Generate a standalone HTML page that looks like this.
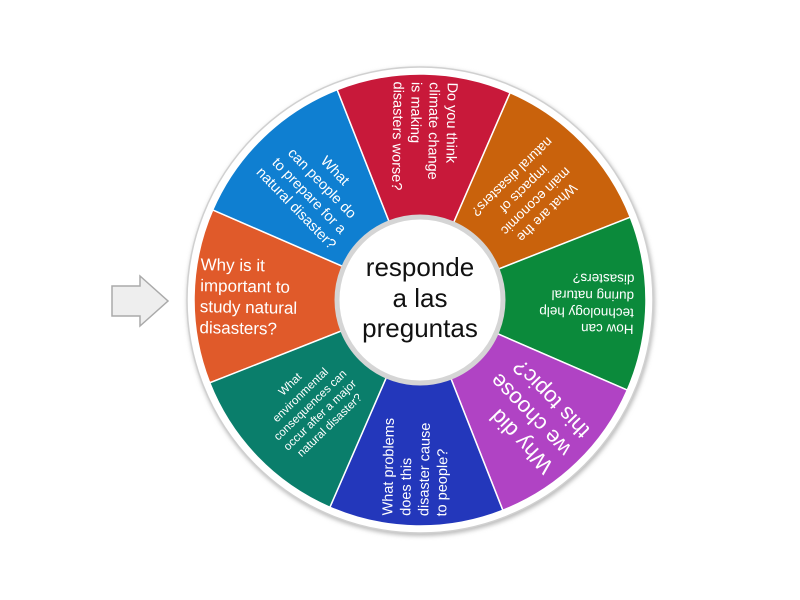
<!DOCTYPE html>
<html><head><style>
body{margin:0;width:800px;height:600px;background:#fff;overflow:hidden;position:relative;font-family:"Liberation Sans",sans-serif}
svg{position:absolute;left:0;top:0}
.c{position:absolute;left:420px;top:300px;width:0;height:0}
.l{position:absolute;left:-220px;top:-60px;width:140px;height:120px;display:flex;align-items:center;color:#fff;line-height:1.24}
.ctr{position:absolute;left:340px;top:252px;width:160px;text-align:center;font-size:26px;line-height:1.18;color:#111}
</style></head><body>
<svg width="800" height="600">
<defs><filter id="s"><feGaussianBlur stdDeviation="2"/></filter></defs>
<circle cx="421" cy="302" r="234" fill="#bbb" filter="url(#s)"/>
<circle cx="420" cy="300" r="233" fill="#fff" stroke="#d0d0d0" stroke-width="1.5"/>
<g id="w"></g>
<circle cx="420" cy="300" r="83" fill="#fff" stroke="#d5d5d5" stroke-width="5"/>
<polygon points="112,286 140,286 140,276 168,301 140,326 140,316 112,316" fill="#eee" stroke="#aaa" stroke-width="1.5"/>
</svg>
<div class="ctr">responde<br>a las<br>preguntas</div>
<script>
var cols=["#e05a2a","#0f7fd1","#c8193a","#c9620c","#0b8a3b","#b043c4","#2337bb","#0a7e6b"];
var g=document.getElementById('w'),R=226,cx=420,cy=300,h='';
for(var i=0;i<8;i++){var a1=(180+45*i-22.5+1)*Math.PI/180,a2=(180+45*i+22.5+1)*Math.PI/180;
h+='<path d="M'+cx+','+cy+' L'+(cx+R*Math.cos(a1))+','+(cy+R*Math.sin(a1))+' A'+R+','+R+' 0 0 1 '+(cx+R*Math.cos(a2))+','+(cy+R*Math.sin(a2))+' Z" fill="'+cols[i]+'" stroke="#fff" stroke-width="1.5"/>';}
g.innerHTML=h;
</script>
<div class="c" style="transform:rotate(1deg)"><div class="l" style="font-size:17px">Why is it<br>important to<br>study natural<br>disasters?</div></div>
<div class="c" style="transform:rotate(46deg)"><div class="l" style="font-size:14.5px;text-align:center;justify-content:center;left:-222px">What<br>can people do<br>to prepare for a<br>natural disaster?</div></div>
<div class="c" style="transform:rotate(91deg)"><div class="l" style="font-size:14.5px;left:-218px">Do you think<br>climate change<br>is making<br>disasters worse?</div></div>
<div class="c" style="transform:rotate(136deg)"><div class="l" style="font-size:13.5px;justify-content:center;text-align:center;left:-222px">What are the<br>main economic<br>impacts of<br>natural disasters?</div></div>
<div class="c" style="transform:rotate(181deg)"><div class="l" style="font-size:13.5px;left:-214px">How can<br>technology help<br>during natural<br>disasters?</div></div>
<div class="c" style="transform:rotate(226deg)"><div class="l" style="font-size:22px;left:-212px;line-height:1.15">Why did<br>we choose<br>this topic?</div></div>
<div class="c" style="transform:rotate(271deg)"><div class="l" style="font-size:14.5px;left:-216px">What problems<br>does this<br>disaster cause<br>to people?</div></div>
<div class="c" style="transform:rotate(316deg)"><div class="l" style="font-size:11.5px;justify-content:center;text-align:center;left:-222px">What<br>environmental<br>consequences can<br>occur after a major<br>natural disaster?</div></div>
</body></html>
